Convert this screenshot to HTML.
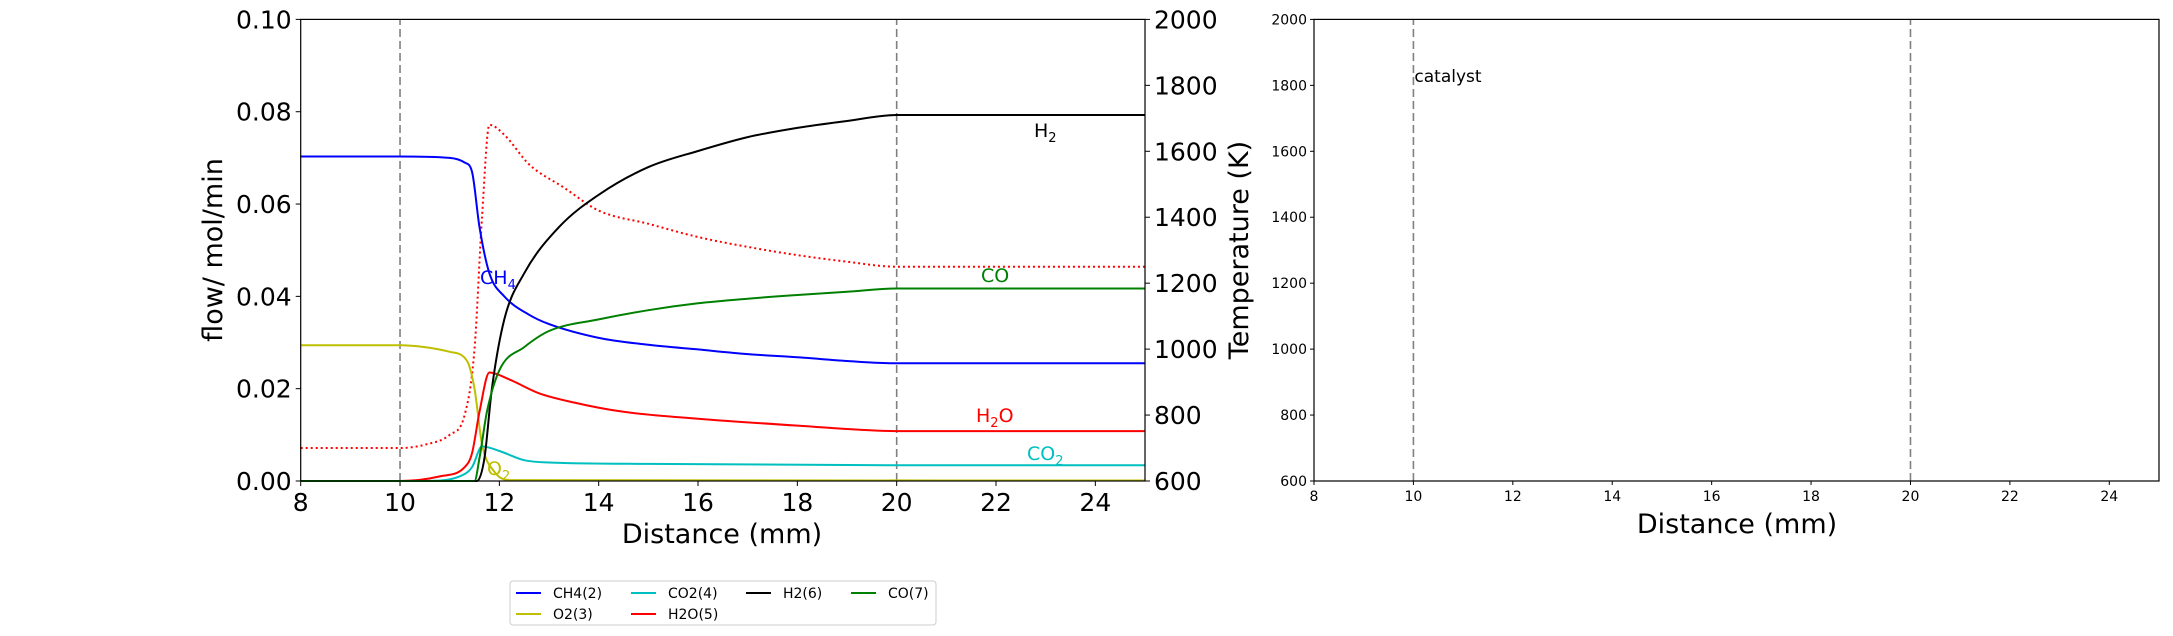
<!DOCTYPE html>
<html><head><meta charset="utf-8"><style>
html,body{margin:0;padding:0;background:#fff;}
svg{display:block;font-family:"DejaVu Sans","Liberation Sans",sans-serif;}
</style></head><body>
<svg id="c" width="2173" height="636"></svg>
<script>
const xs_ch4=[8,10,11,11.3,11.45,11.6,11.8,12.1,12.6,13,14,15,16,17,18,19,20,25];
const ys_ch4=[0.0703,0.0703,0.070,0.069,0.067,0.055,0.045,0.040,0.036,0.034,0.031,0.0295,0.0285,0.0275,0.0268,0.026,0.0255,0.0255];
const xs_o2=[8,10,10.5,11,11.35,11.5,11.65,11.9,12.2,25];
const ys_o2=[0.0294,0.0294,0.029,0.028,0.026,0.02,0.008,0.002,0.0002,0.0001];
const xs_co2=[8,10.5,11.2,11.45,11.65,12,12.5,13,15,20,25];
const ys_co2=[0,0,0.001,0.003,0.0075,0.0065,0.0045,0.004,0.0037,0.0034,0.0034];
const xs_h2o=[8,10,10.8,11.3,11.45,11.6,11.8,12.2,12.8,13.5,14.5,16,18,20,25];
const ys_h2o=[0,0,0.001,0.003,0.006,0.015,0.0235,0.022,0.019,0.017,0.015,0.0135,0.012,0.0108,0.0108];
const xs_h2=[8,11.55,11.7,11.85,12.1,12.5,13.2,14,15,16,17,18,19,20,25];
const ys_h2=[0,0,0.005,0.02,0.035,0.045,0.055,0.062,0.068,0.0715,0.0745,0.0765,0.078,0.0793,0.0793];
const xs_co=[8,11.5,11.6,11.75,12,12.5,13,14,15,16,17,18,19,20,25];
const ys_co=[0,0,0.005,0.015,0.024,0.029,0.0325,0.035,0.037,0.0385,0.0395,0.0403,0.041,0.0417,0.0417];
const xs_T=[8,10,10.5,11,11.3,11.5,11.65,11.8,12.1,12.6,13.3,14,15,16,17,18,19,20,25];
const ys_T=[700,700,710,740,800,1000,1400,1680,1650,1560,1490,1420,1380,1340,1310,1285,1265,1250,1250];
const xTicks=[8,10,12,14,16,18,20,22,24];
const yTicksL=[0,0.02,0.04,0.06,0.08,0.10];
const yTickLabelsL=["0.00","0.02","0.04","0.06","0.08","0.10"];
const tTicks=[600,800,1000,1200,1400,1600,1800,2000];

const NS="http://www.w3.org/2000/svg";
const svg=document.getElementById('c');
function mk(t,a,p){const e=document.createElementNS(NS,t);for(const k in a)e.setAttribute(k,a[k]);(p||svg).appendChild(e);return e;}
const L={x0:300.7,x1:1145,y0:481,y1:19.4};
const R={x0:1314,x1:2159,y0:481,y1:19.4};
function sx(A,v){return A.x0+(v-8)/17*(A.x1-A.x0);}
function syL(v){return L.y0+v/0.1*(L.y1-L.y0);}
function syT(A,v){return A.y0+(v-600)/1400*(A.y1-A.y0);}

// left panel
for(const t of xTicks){
  const x=sx(L,t);
  let e=mk('line',{x1:x,x2:x,y1:L.y0,y2:L.y0+5,stroke:'#000'});
  
  e=mk('text',{x:x,y:511,'font-size':25,'text-anchor':'middle'});e.textContent=t;
  
}
yTicksL.forEach((t,i)=>{
  const y=syL(t);
  let e=mk('line',{x1:L.x0-5,x2:L.x0,y1:y,y2:y,stroke:'#000'});
  
  e=mk('text',{x:L.x0-9,y:y+9,'font-size':25,'text-anchor':'end'});e.textContent=yTickLabelsL[i];
  
});
for(const t of tTicks){
  const y=syT(L,t);
  let e=mk('line',{x1:L.x1,x2:L.x1+5,y1:y,y2:y,stroke:'#000'});
  
  e=mk('text',{x:L.x1+9,y:y+9,'font-size':25});e.textContent=t;
  
}
for(const d of [10,20]){
  const e=mk('line',{x1:sx(L,d),x2:sx(L,d),y1:L.y0,y2:L.y1,stroke:'#808080','stroke-width':1.6,'stroke-dasharray':'8,4'});
  
}
// monotone cubic (Fritsch-Carlson) path through screen points
function smooth(P){
  const n=P.length;if(n<3){return 'M'+P.map(p=>p[0].toFixed(1)+','+p[1].toFixed(1)).join('L');}
  const d=[],m=[];
  for(let i=0;i<n-1;i++){d.push((P[i+1][1]-P[i][1])/(P[i+1][0]-P[i][0]));}
  m[0]=d[0];m[n-1]=d[n-2];
  for(let i=1;i<n-1;i++){m[i]=(d[i-1]*d[i]<=0)?0:(d[i-1]+d[i])/2;}
  for(let i=0;i<n-1;i++){
    if(d[i]===0){m[i]=0;m[i+1]=0;continue;}
    const a=m[i]/d[i],b=m[i+1]/d[i],s=a*a+b*b;
    if(s>9){const t=3/Math.sqrt(s);m[i]=t*a*d[i];m[i+1]=t*b*d[i];}
  }
  let s='M'+P[0][0].toFixed(1)+','+P[0][1].toFixed(1);
  for(let i=0;i<n-1;i++){
    const h=(P[i+1][0]-P[i][0])/3;
    s+='C'+(P[i][0]+h).toFixed(1)+','+(P[i][1]+m[i]*h).toFixed(1)+' '+(P[i+1][0]-h).toFixed(1)+','+(P[i+1][1]-m[i+1]*h).toFixed(1)+' '+P[i+1][0].toFixed(1)+','+P[i+1][1].toFixed(1);
  }
  return s;
}
function path(xs,ys,fy,col,dash,name){
  const P=xs.map((x,i)=>[sx(L,x),fy(ys[i])]);
  const a={d:smooth(P),fill:'none',stroke:col,'stroke-width':2};if(dash)a['stroke-dasharray']=dash;
  const e=mk('path',a);
  
}
path(xs_T,ys_T,v=>syT(L,v),'#ff0000','2,3','temperature-line');
path(xs_ch4,ys_ch4,syL,'#0000ff',null,'ch4-line');
path(xs_o2,ys_o2,syL,'#bfbf00',null,'o2-line');
path(xs_co2,ys_co2,syL,'#00bfbf',null,'co2-line');
path(xs_h2o,ys_h2o,syL,'#ff0000',null,'h2o-line');
path(xs_h2,ys_h2,syL,'#000000',null,'h2-line');
path(xs_co,ys_co,syL,'#008000',null,'co-line');
let e=mk('rect',{x:L.x0,y:L.y1,width:L.x1-L.x0,height:L.y0-L.y1,fill:'none',stroke:'#000','stroke-width':1.2});


function lab(x,y,col,main,sub,after,name){
  const t=mk('text',{x:x,y:y,'font-size':19,fill:col});
  
  t.appendChild(document.createTextNode(main));
  if(sub){const s=mk('tspan',{'font-size':13,dy:5},t);s.textContent=sub;}
  if(after){const s=mk('tspan',{dy:-5},t);s.textContent=after;}
}
lab(480,284,'#0000ff','CH','4','','ch4-label');
lab(1034,137,'#000','H','2','','h2-label');
lab(981,282,'#008000','CO','','','co-label');
lab(976,422,'#ff0000','H','2','O','h2o-label');
lab(1027,460,'#00bfbf','CO','2','','co2-label');
lab(487,475,'#bfbf00','O','2','','o2-label');

e=mk('text',{x:722,y:543,'font-size':27,'text-anchor':'middle'});e.textContent='Distance (mm)';

e=mk('text',{x:0,y:0,'font-size':27,'text-anchor':'middle',transform:'translate(222,250) rotate(-90)'});e.textContent='flow/ mol/min';

e=mk('text',{x:0,y:0,'font-size':27,'text-anchor':'middle',transform:'translate(1248,250) rotate(-90)'});e.textContent='Temperature (K)';


// right panel
for(const t of xTicks){
  const x=sx(R,t);
  e=mk('line',{x1:x,x2:x,y1:R.y0,y2:R.y0+4,stroke:'#000'});
  
  e=mk('text',{x:x,y:501,'font-size':14,'text-anchor':'middle'});e.textContent=t;
  
}
for(const t of tTicks){
  const y=syT(R,t);
  e=mk('line',{x1:R.x0-4,x2:R.x0,y1:y,y2:y,stroke:'#000'});
  
  e=mk('text',{x:R.x0-7,y:y+5,'font-size':14,'text-anchor':'end'});e.textContent=t;
  
}
for(const d of [10,20]){
  e=mk('line',{x1:sx(R,d),x2:sx(R,d),y1:R.y0,y2:R.y1,stroke:'#808080','stroke-width':1.6,'stroke-dasharray':'8,4'});
  
}
e=mk('rect',{x:R.x0,y:R.y1,width:R.x1-R.x0,height:R.y0-R.y1,fill:'none',stroke:'#000','stroke-width':1.2});

e=mk('text',{x:sx(R,10)+1,y:82,'font-size':17});e.textContent='catalyst';

e=mk('text',{x:1737,y:533,'font-size':27,'text-anchor':'middle'});e.textContent='Distance (mm)';


// legend
e=mk('rect',{x:510,y:581,width:426,height:44,fill:'#fff',stroke:'#ccc',rx:3});

const legNames=['CH4(2)','CO2(4)','H2(6)','CO(7)','O2(3)','H2O(5)'];
const legCols=['#0000ff','#00bfbf','#000000','#008000','#bfbf00','#ff0000'];
const colX=[516,631,746,851];
legNames.forEach((n,i)=>{
  const c=i<4?i:i-4, r=i<4?0:1, x=colX[c], y=r?614:593;
  e=mk('line',{x1:x,x2:x+25,y1:y,y2:y,stroke:legCols[i],'stroke-width':2});
  
  e=mk('text',{x:x+37,y:y+5,'font-size':14});e.textContent=n;
  
});
</script>
</body></html>
